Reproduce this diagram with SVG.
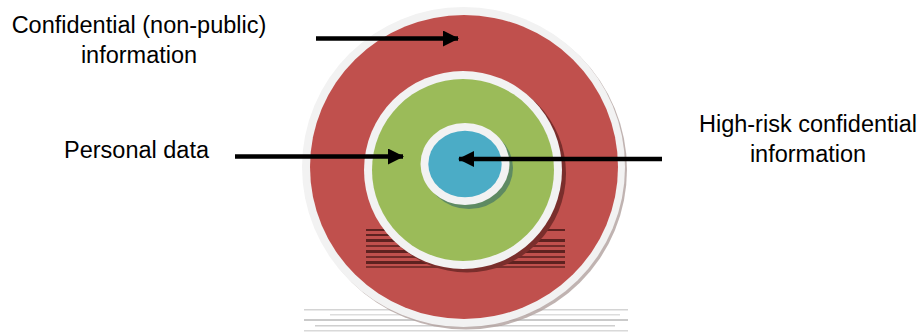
<svg xmlns="http://www.w3.org/2000/svg" width="921" height="333" viewBox="0 0 921 333">
<defs>
<style>
.lbl{font-family:"Liberation Sans",Arial,sans-serif;font-size:23.5px;fill:#000}
.arr{stroke:#000;stroke-width:4.5;fill:none}
.ring{fill:#F2F2F2}
</style>
<marker id="ah" markerWidth="16" markerHeight="16" refX="15" refY="8" orient="auto" markerUnits="userSpaceOnUse">
<path d="M0,0 L16,8 L0,16 z" fill="#000"/>
</marker>
</defs>
<rect width="921" height="333" fill="#fff"/>
<g id="reflection" opacity="0.6">
<rect x="304" y="309" width="324" height="1.5" fill="#B8B8B8"/>
<rect x="330" y="314" width="290" height="1.5" fill="#C8C8C8"/>
<rect x="304" y="319" width="324" height="2" fill="#A8A8A8"/>
<rect x="315" y="325" width="300" height="1.5" fill="#B0B0B0"/>
<rect x="304" y="330" width="324" height="1.5" fill="#C0C0C0"/>
</g>
<g id="outer">
<ellipse cx="466" cy="169.5" rx="161" ry="160" fill="#B0A09E" opacity="0.8"/>
<ellipse class="ring" cx="463.5" cy="167" rx="161.5" ry="160"/>
<ellipse cx="464" cy="167" rx="154" ry="152" fill="#C0504D"/>
</g>
<g id="artifacts" fill="#5E2220">
<rect x="366" y="229" width="199" height="2"/>
<rect x="366" y="234" width="120" height="2"/>
<rect x="366" y="239" width="199" height="3"/>
<rect x="366" y="245" width="199" height="2" opacity="0.8"/>
<rect x="366" y="250" width="199" height="3"/>
<rect x="366" y="256" width="199" height="2" opacity="0.8"/>
<rect x="366" y="261" width="199" height="3"/>
<rect x="366" y="266" width="199" height="2" opacity="0.7"/>
</g>
<g id="middle">
<circle cx="467" cy="173.5" r="99" fill="#7A2E2C"/>
<circle class="ring" cx="463" cy="170" r="99"/>
<circle cx="463" cy="170" r="91" fill="#9BBB59"/>
</g>
<g id="inner">
<ellipse cx="469" cy="168" rx="44" ry="41" fill="#5E8A62"/>
<ellipse class="ring" cx="465" cy="164" rx="44.5" ry="41"/>
<ellipse cx="465" cy="164" rx="36.7" ry="33.3" fill="#4BACC6"/>
</g>
<g id="connectors">
<line class="arr" x1="316" y1="38.5" x2="458" y2="38.5" marker-end="url(#ah)"/>
<line class="arr" x1="235" y1="156.5" x2="403" y2="156.5" marker-end="url(#ah)"/>
<line class="arr" x1="662" y1="159" x2="459" y2="159" marker-end="url(#ah)"/>
</g>
<g id="label-confidential">
<text class="lbl" x="139" y="33" text-anchor="middle">Confidential (non-public)</text>
<text class="lbl" x="139" y="63" text-anchor="middle">information</text>
</g>
<g id="label-personal">
<text class="lbl" x="64" y="158">Personal data</text>
</g>
<g id="label-highrisk">
<text class="lbl" x="808" y="131.5" text-anchor="middle">High-risk confidential</text>
<text class="lbl" x="808" y="161.5" text-anchor="middle">information</text>
</g>
</svg>
